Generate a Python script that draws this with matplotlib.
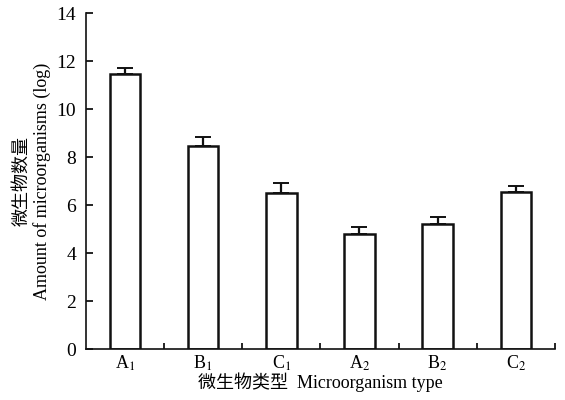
import matplotlib
matplotlib.use("Agg")
import matplotlib.pyplot as plt
import numpy as np

categories = ["A$_1$", "B$_1$", "C$_1$", "A$_2$", "B$_2$", "C$_2$"]
values = [11.45, 8.45, 6.5, 4.8, 5.22, 6.55]
errors = [0.24, 0.4, 0.4, 0.3, 0.27, 0.24]
yticks = [0, 2, 4, 6, 8, 10, 12, 14]

plt.rcParams['font.family'] = ['Liberation Serif', 'Noto Sans CJK SC']
plt.rcParams['mathtext.fontset'] = 'stix'

fig = plt.figure(figsize=(5.65, 4.0), dpi=100)
ax = fig.add_axes([0.152, 0.1275, 0.83, 0.84])

x = np.arange(len(categories)) + 0.5
ax.bar(x, values, width=0.39, color='white', edgecolor='#111111', linewidth=1.8, zorder=2)
ax.errorbar(x, values, yerr=[np.zeros(len(errors)), errors], fmt='none',
            ecolor='#111111', elinewidth=1.6, capsize=5.5, capthick=1.4, zorder=1)

ax.set_xlim(0, 6)
ax.set_ylim(0, 14)
ax.set_yticks(yticks)
ax.set_yticklabels([str(t) for t in yticks], fontsize=14)
ax.set_xticks(x)
ax.set_xticklabels(categories, fontsize=13)
ax.set_xticks(np.arange(1, 7), minor=True)
ax.tick_params(axis='x', which='major', length=0, pad=3)
ax.tick_params(axis='x', which='minor', direction='in', length=4, width=1.2)
ax.tick_params(axis='y', direction='in', length=5, width=1.2, pad=7)

for s in ['top', 'right']:
    ax.spines[s].set_visible(False)
for s in ['left', 'bottom']:
    ax.spines[s].set_linewidth(1.2)
    ax.spines[s].set_color('#111111')

ax.set_xlabel("微生物类型  Microorganism type", fontsize=13, labelpad=0,
              family=['Liberation Serif', 'Noto Sans CJK SC'])
ax.set_ylabel("微生物数量\nAmount of microorganisms (log)", fontsize=13, labelpad=4,
              linespacing=1.15, family=['Liberation Serif', 'Noto Sans CJK SC'])

fig.savefig("out.png", dpi=100)
